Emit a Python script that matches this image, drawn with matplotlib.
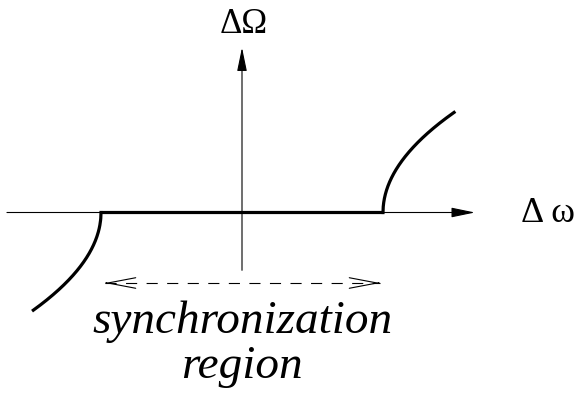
import matplotlib.pyplot as plt
import numpy as np

# detuning (in units of the locking half-width K) and beat-frequency scale
lock_half_width = 1.0
beat_scale = 1.0
dw_left_end = -1.48
dw_right_end = 1.504

# axis extents in the same units
h_axis = [-1.667, 1.652]
v_axis = [-0.41, 1.17]
sync_span = [-0.972, 0.979]
sync_y = -0.50

axis_labels = ["\u0394\u03a9", "\u0394 \u03c9"]
region_lines = ["synchronization", "region"]


def beat(dw):
    # schematic square-root onset outside the locking range
    return np.sign(dw) * beat_scale * np.sqrt(np.abs(dw) - lock_half_width)


plt.rcParams['font.family'] = ['Liberation Serif', 'DejaVu Serif']
fig = plt.figure(figsize=(5.78, 3.98), dpi=100)
ax = fig.add_axes([0, 0, 1, 1])
ax.set_xlim(-242 / 141, 336 / 141)
ax.set_ylim(-185.5 / 141, 212.5 / 141)
ax.axis('off')

# coordinate axes with filled heads
head = dict(arrowstyle='-|>,head_length=1.45,head_width=0.3', color='black',
            lw=0.8, shrinkA=0, shrinkB=0, mutation_scale=10)
ax.annotate('', xy=(h_axis[1], 0), xytext=(h_axis[0], 0), arrowprops=head)
ax.annotate('', xy=(0, v_axis[1]), xytext=(0, v_axis[0]), arrowprops=head)

# locked plateau and the two beat branches
ax.plot([-lock_half_width, lock_half_width], [0, 0], color='black', lw=2.3,
        solid_capstyle='butt')
right = np.linspace(lock_half_width, dw_right_end, 300)
left = np.linspace(dw_left_end, -lock_half_width, 300)
ax.plot(right, beat(right), color='black', lw=2.3)
ax.plot(left, beat(left), color='black', lw=2.3)

# dashed double arrow marking the locking range
ax.plot(sync_span, [sync_y, sync_y], color='black', lw=0.8,
        linestyle=(0, (10, 8.5)))
chevron = dict(arrowstyle='->,head_length=2.0,head_width=0.38', color='black',
               lw=0.8, shrinkA=0, shrinkB=0, mutation_scale=10)
ax.annotate('', xy=(sync_span[0], sync_y), xytext=(sync_span[0] + 0.01, sync_y),
            arrowprops=chevron)
ax.annotate('', xy=(sync_span[1], sync_y), xytext=(sync_span[1] - 0.01, sync_y),
            arrowprops=chevron)

# labels
ax.text(0.01, 1.273, axis_labels[0], ha='center', va='baseline', fontsize=25)
ax.text(2.167, -0.067, axis_labels[1], ha='center', va='baseline', fontsize=26)
ax.text(0.005, -0.855, region_lines[0], ha='center', va='baseline',
        fontsize=34, style='italic')
ax.text(0.0, -1.174, region_lines[1], ha='center', va='baseline',
        fontsize=34, style='italic')

fig.savefig('out.png', dpi=100)
